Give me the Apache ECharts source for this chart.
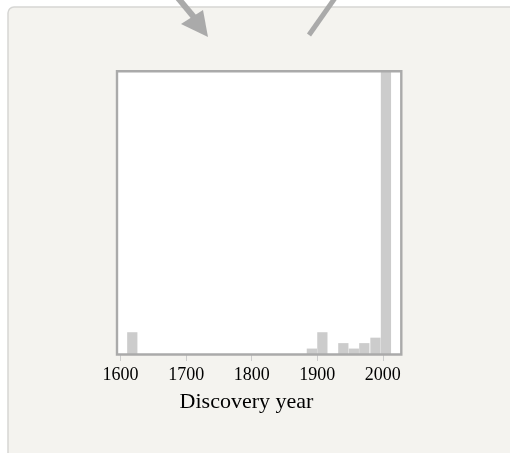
<!DOCTYPE html>
<html>
<head>
<meta charset="utf-8">
<script src="https://cdn.jsdelivr.net/npm/echarts@6/dist/echarts.min.js"></script>
<style>
  html, body { margin: 0; padding: 0; background: #fff; }
  #chart { width: 510px; height: 453px; }
</style>
</head>
<body>
<div id="chart"></div>
<script>
// histogram bins (discovery year), only non-empty ones
var binStarts = [1610, 1884, 1900, 1932, 1948, 1964, 1981, 1997];
var binWidth = 16.1;
var counts = [4, 1, 4, 2, 1, 2, 3, 52];
var tickYears = [1600, 1700, 1800, 1900, 2000];

var serif = '"Liberation Serif", "Times New Roman", serif';

var chart = echarts.init(document.getElementById('chart'));

chart.setOption({
  backgroundColor: '#fff',
  animation: false,
  grid: {
    left: 117,
    top: 71,
    width: 284,
    height: 283,
    show: true,
    backgroundColor: '#fff',
    borderWidth: 0
  },
  graphic: [
    // panel behind the chart
    {
      type: 'rect',
      z: -10,
      shape: { x: 8, y: 7, width: 540, height: 480, r: 6 },
      style: { fill: '#f4f3ef', stroke: '#d6d6d4', lineWidth: 1.5 }
    },
    // arrow with head
    {
      type: 'line',
      z: -5,
      shape: { x1: 178, y1: -2, x2: 198, y2: 22 },
      style: { stroke: '#aaa', lineWidth: 6 }
    },
    {
      type: 'polygon',
      z: -5,
      shape: { points: [[181, 24], [203, 10], [208, 37]] },
      style: { fill: '#aaa' }
    },
    // plain line
    {
      type: 'line',
      z: -5,
      shape: { x1: 335, y1: -2, x2: 309, y2: 35 },
      style: { stroke: '#aaa', lineWidth: 5 }
    },
    // plot frame
    {
      type: 'rect',
      z: 100,
      shape: { x: 117, y: 71.3, width: 284.3, height: 283.2 },
      style: { fill: null, stroke: '#aaa', lineWidth: 2.4 }
    }
  ],
  xAxis: {
    type: 'value',
    min: 1594.5,
    max: 2027.8,
    name: 'Discovery year',
    nameLocation: 'middle',
    nameGap: 37,
    nameTextStyle: { fontFamily: serif, fontSize: 22, color: '#000', padding: [0, 25, 0, 0] },
    axisLine: { show: false },
    splitLine: { show: false },
    axisTick: {
      show: true,
      customValues: tickYears,
      length: 7,
      lineStyle: { color: '#ccc', width: 1 }
    },
    axisLabel: {
      customValues: tickYears,
      margin: 12,
      fontFamily: serif,
      fontSize: 18,
      color: '#000',
      formatter: function (v) { return String(v); }
    }
  },
  yAxis: {
    type: 'value',
    min: 0,
    max: 52,
    show: false
  },
  series: [{
    type: 'custom',
    clip: true,
    renderItem: function (params, api) {
      var p0 = api.coord([api.value(0), api.value(2)]);
      var p1 = api.coord([api.value(1), 0]);
      return {
        type: 'rect',
        shape: { x: p0[0], y: p0[1], width: p1[0] - p0[0] - 0.3, height: p1[1] - p0[1] },
        style: { fill: '#ccc' }
      };
    },
    encode: { x: [0, 1], y: 2 },
    data: binStarts.map(function (s, i) { return [s, s + binWidth, counts[i]]; })
  }]
});
</script>
</body>
</html>
